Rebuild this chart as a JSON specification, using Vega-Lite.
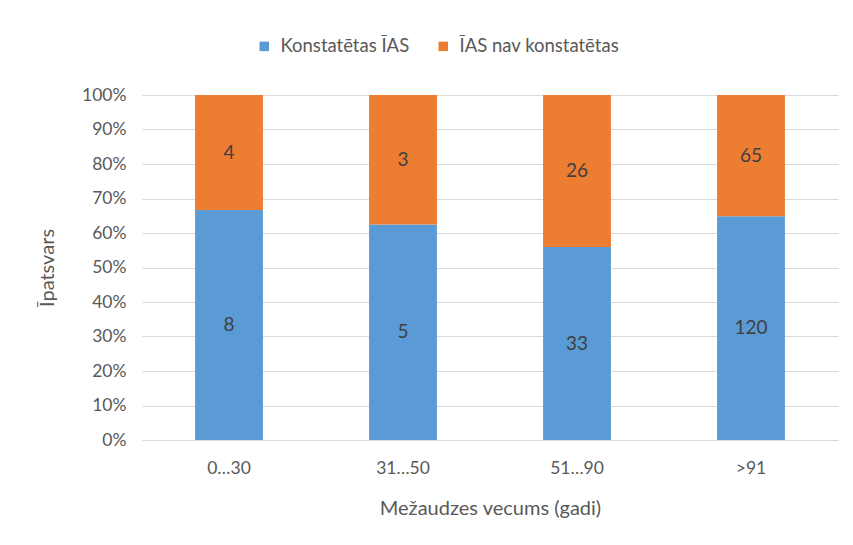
{
  "$schema": "https://vega.github.io/schema/vega-lite/v6.json",
  "width": 696,
  "height": 345,
  "autosize": {"type": "none"},
  "padding": {"left": 142, "top": 95, "right": 15, "bottom": 105},
  "background": "white",
  "config": {
    "font": "Lato",
    "view": {"stroke": null},
    "axis": {"labelFont": "Lato", "titleFont": "Lato", "labelColor": "#595959", "titleColor": "#595959", "labelFontSize": 17.5, "titleFontSize": 20, "titleFontWeight": "normal", "ticks": false, "gridColor": "#d9d9d9", "domainColor": "#d9d9d9"}
  },
  "data": {
    "values": [
      {"vecums": "0…30", "statuss": "Konstatētas ĪAS", "skaits": 8, "ord": 1},
      {"vecums": "0…30", "statuss": "ĪAS nav konstatētas", "skaits": 4, "ord": 2},
      {"vecums": "31…50", "statuss": "Konstatētas ĪAS", "skaits": 5, "ord": 1},
      {"vecums": "31…50", "statuss": "ĪAS nav konstatētas", "skaits": 3, "ord": 2},
      {"vecums": "51…90", "statuss": "Konstatētas ĪAS", "skaits": 33, "ord": 1},
      {"vecums": "51…90", "statuss": "ĪAS nav konstatētas", "skaits": 26, "ord": 2},
      {"vecums": ">91", "statuss": "Konstatētas ĪAS", "skaits": 120, "ord": 1},
      {"vecums": ">91", "statuss": "ĪAS nav konstatētas", "skaits": 65, "ord": 2}
    ]
  },
  "encoding": {
    "x": {
      "field": "vecums", "type": "nominal", "sort": null,
      "scale": {"paddingInner": 0.61, "paddingOuter": 0.305},
      "axis": {"title": "Mežaudzes vecums (gadi)", "labelAngle": 0, "labelPadding": 19, "titlePadding": 22, "domain": true, "grid": false}
    },
    "order": {"field": "ord", "type": "quantitative"}
  },
  "layer": [
    {
      "mark": {"type": "bar"},
      "encoding": {
        "y": {
          "field": "skaits", "type": "quantitative", "stack": "normalize",
          "scale": {"domain": [0, 1]},
          "axis": {"title": "Īpatsvars", "format": ".0%", "values": [0,0.1,0.2,0.3,0.4,0.5,0.6,0.7,0.8,0.9,1], "labelOverlap": false, "domain": false, "labelPadding": 16, "titlePadding": 24}
        },
        "color": {
          "field": "statuss", "type": "nominal",
          "scale": {"domain": ["Konstatētas ĪAS", "ĪAS nav konstatētas"], "range": ["#5B9BD5", "#ED7D31"]},
          "legend": {"title": null, "orient": "none", "direction": "horizontal", "legendX": 113, "legendY": -58, "symbolType": "square", "symbolSize": 90, "symbolStrokeWidth": 0, "labelFontSize": 18.5, "labelFont": "Lato", "labelColor": "#595959", "columnPadding": 24, "labelOffset": 7}
        }
      }
    },
    {
      "mark": {"type": "text", "fontSize": 19, "color": "#404040", "font": "Lato"},
      "encoding": {
        "y": {
          "field": "skaits", "type": "quantitative", "stack": "normalize", "bandPosition": 0.5,
          "scale": {"domain": [0, 1]},
          "axis": {"title": "Īpatsvars", "format": ".0%", "values": [0,0.1,0.2,0.3,0.4,0.5,0.6,0.7,0.8,0.9,1], "labelOverlap": false, "domain": false, "labelPadding": 16, "titlePadding": 24}
        },
        "text": {"field": "skaits", "type": "quantitative"}
      }
    }
  ]
}
